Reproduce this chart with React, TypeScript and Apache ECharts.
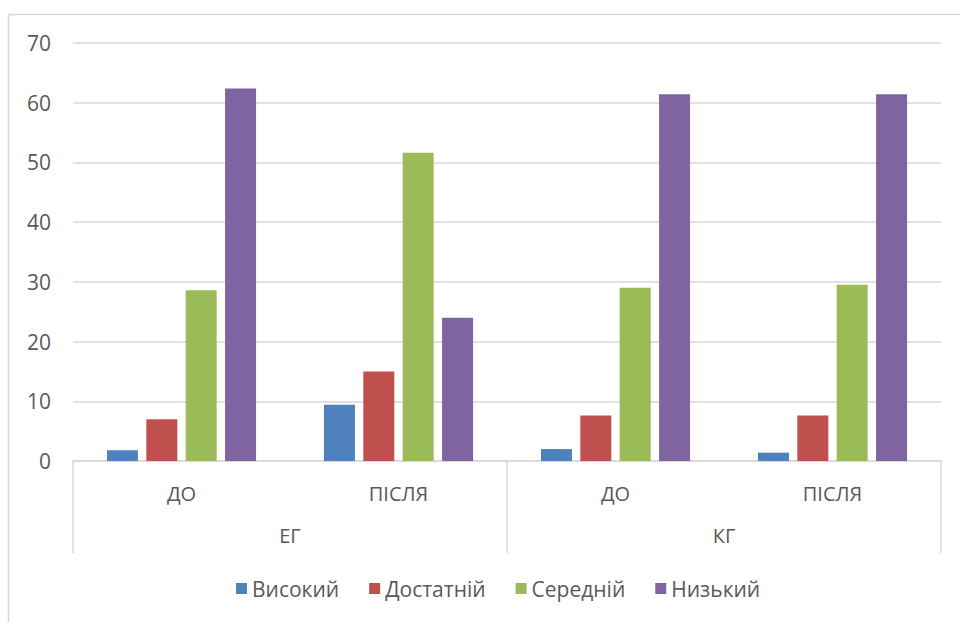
import React, { useEffect, useRef } from "react";
import * as echarts from "echarts";

const subCategories = ["ДО", "ПІСЛЯ", "ДО", "ПІСЛЯ"];
const groups = ["ЕГ", "КГ"];
const seriesNames = ["Високий", "Достатній", "Середній", "Низький"];
const vysokyi = [1.8, 9.4, 2.0, 1.4];
const dostatnii = [7.0, 15.0, 7.6, 7.6];
const serednii = [28.6, 51.6, 29.0, 29.5];
const nyzkyi = [62.4, 24.0, 61.4, 61.4];
const colors = ["#4F81BD", "#C0504D", "#9BBB59", "#8064A2"];
const yTicks = [0, 10, 20, 30, 40, 50, 60, 70];

export default function App() {
  const ref = useRef<HTMLDivElement>(null);
  useEffect(() => {
    if (!ref.current) return;
    const chart = echarts.init(ref.current, null, { renderer: "svg" });
    const font = "'Open Sans', 'Noto Sans', sans-serif";
    const values = [vysokyi, dostatnii, serednii, nyzkyi];
    chart.setOption({
      animation: false,
      textStyle: { fontFamily: font },
      color: colors,
      graphic: [
        {
          type: "rect",
          shape: { x: 8.5, y: 14.5, width: 1000, height: 700 },
          style: { fill: "none", stroke: "#d9d9d9", lineWidth: 1.5 },
          silent: true,
        },
      ],
      grid: { left: 73, right: 19, top: 43, bottom: 161 },
      legend: {
        data: seriesNames,
        bottom: 18,
        left: 231,
        icon: "rect",
        itemWidth: 11,
        itemHeight: 11,
        itemGap: 30,
        textStyle: { fontSize: 21, color: "#595959", fontFamily: font },
      },
      xAxis: [
        {
          type: "category",
          data: subCategories,
          position: "bottom",
          axisLine: { show: true, lineStyle: { color: "#d9d9d9", width: 1.5 } },
          axisTick: { show: false },
          axisLabel: { fontSize: 20, color: "#595959", margin: 22, fontFamily: font },
        },
        {
          type: "category",
          data: groups,
          position: "bottom",
          offset: 0,
          axisLine: { show: false },
          axisTick: { show: true, length: 92, lineStyle: { color: "#d9d9d9", width: 1.5 } },
          axisLabel: { fontSize: 20, color: "#595959", margin: 64, fontFamily: font },
        },
      ],
      yAxis: {
        type: "value",
        min: 0,
        max: 70,
        interval: 10,
        axisLine: { show: false },
        axisTick: { show: false },
        splitLine: { lineStyle: { color: "#d9d9d9", width: 1.5 } },
        axisLabel: {
          fontSize: 21,
          color: "#595959",
          margin: 22,
          fontFamily: font,
          formatter: (v: number) => (yTicks.includes(v) ? String(v) : ""),
        },
      },
      series: seriesNames.map((name, i) => ({
        name,
        type: "bar",
        xAxisIndex: 0,
        data: values[i],
        barWidth: 31,
        barGap: "27%",
        itemStyle: { color: colors[i] },
      })),
    });
    return () => chart.dispose();
  }, []);
  return (
    <div
      ref={ref}
      style={{ position: "fixed", left: 0, top: 0, width: 960, height: 622, background: "#fff" }}
    />
  );
}
